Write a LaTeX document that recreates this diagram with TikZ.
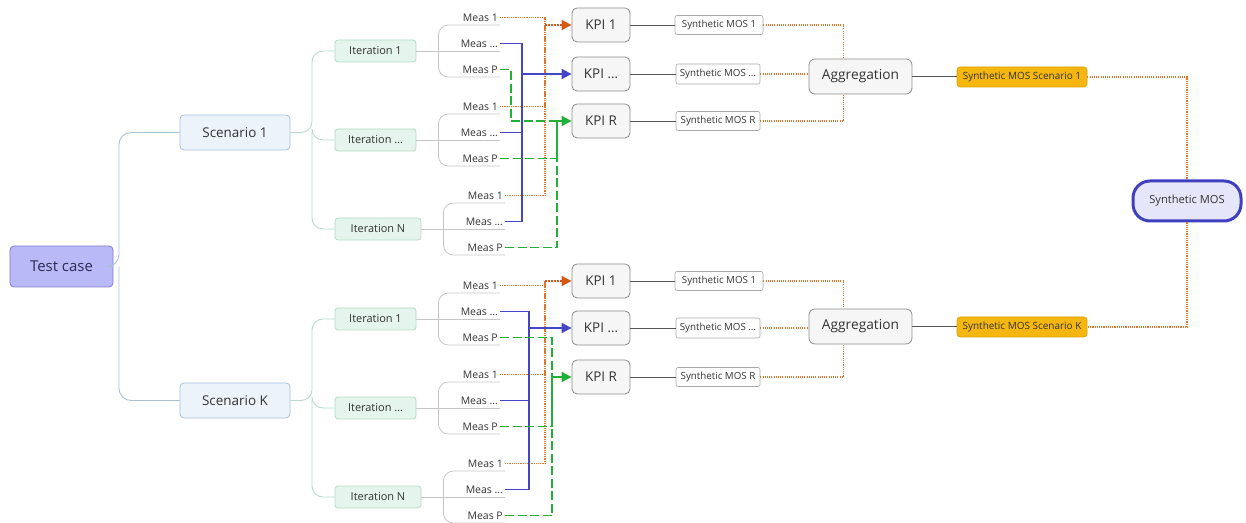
\documentclass[tikz,border=0pt]{standalone}
\usepackage{fontspec}
\setmainfont{Open Sans}
\usetikzlibrary{arrows.meta,calc}
\definecolor{tcfill}{HTML}{B9B9F7}
\definecolor{tcdraw}{HTML}{7F7FC9}
\definecolor{tctext}{HTML}{2B2B55}
\definecolor{scfill}{HTML}{EDF3FA}
\definecolor{scdraw}{HTML}{A7C1DA}
\definecolor{itfill}{HTML}{E5F4EC}
\definecolor{itdraw}{HTML}{B3DBC3}
\definecolor{kpifill}{HTML}{F6F6F6}
\definecolor{kpidraw}{HTML}{8C8C8C}
\definecolor{smdraw}{HTML}{A8A8A8}
\definecolor{ssfill}{HTML}{F5B70F}
\definecolor{ssdraw}{HTML}{DDA000}
\definecolor{fifill}{HTML}{E6E6FA}
\definecolor{fidraw}{HTML}{3F3FBF}
\definecolor{orng}{HTML}{E0762C}
\definecolor{orngdark}{HTML}{D4581A}
\definecolor{blu}{HTML}{4545C6}
\definecolor{grn}{HTML}{22B038}
\definecolor{treeA}{HTML}{A9C3D6}
\definecolor{treeB}{HTML}{B7DACB}
\definecolor{treeC}{HTML}{C6C6C6}
\definecolor{linkc}{HTML}{555555}
\definecolor{txt}{HTML}{333333}
\newcommand\mgroup[4]{%
  \node[meas] (#1a) at (#3,#4) {Meas 1};
  \node[meas] (#1b) at (#3,{#4+26}) {Meas …};
  \node[meas] (#1c) at (#3,{#4+52}) {Meas P};
  \draw[tree3] (#2.east) -- (#1b.south east);
  \draw[tree3] ($(#2.east)+(22,0)$) |- (#1a.south east);
  \draw[tree3] ($(#2.east)+(22,0)$) |- (#1c.south east);
}
\begin{document}
\begin{tikzpicture}[x=1bp,y=-1bp,
  box/.style={draw, rounded corners=4bp, line width=0.8bp, inner sep=0bp, text=txt},
  tcbox/.style={box, fill=tcfill, draw=tcdraw, minimum width=103bp, minimum height=41bp, text=tctext, font=\fontsize{15}{17}\selectfont},
  scbox/.style={box, fill=scfill, draw=scdraw, minimum width=110bp, minimum height=35bp, font=\fontsize{13.5}{15}\selectfont},
  itbox/.style={box, fill=itfill, draw=itdraw, minimum width=81bp, minimum height=22bp, rounded corners=3bp, font=\fontsize{11}{13}\selectfont},
  kpibox/.style={box, fill=kpifill, draw=kpidraw, minimum width=58bp, minimum height=34bp, rounded corners=5bp, font=\fontsize{13.5}{15}\selectfont},
  smbox/.style={box, fill=white, draw=smdraw, minimum width=86bp, minimum height=19bp, rounded corners=2bp, line width=0.6bp, font=\fontsize{9.8}{11}\selectfont},
  aggbox/.style={box, fill=kpifill, draw=kpidraw, minimum width=103bp, minimum height=35bp, rounded corners=6bp, font=\fontsize{13.8}{15}\selectfont},
  ssbox/.style={box, fill=ssfill, draw=ssdraw, minimum width=130bp, minimum height=20bp, rounded corners=3bp, line width=0.6bp, font=\fontsize{10}{11}\selectfont},
  finbox/.style={box, fill=fifill, draw=fidraw, line width=3bp, minimum width=108bp, minimum height=40bp, rounded corners=17bp, font=\fontsize{11.2}{13}\selectfont},
  meas/.style={anchor=south east, inner xsep=2bp, inner ysep=3.5bp, text height=7.5bp, text depth=0bp, text=txt, font=\fontsize{10.5}{12}\selectfont},
  tree1/.style={draw=treeA, line width=0.9bp, rounded corners=12bp},
  tree2/.style={draw=treeB, line width=0.9bp, rounded corners=11bp},
  tree3/.style={draw=treeC, line width=0.8bp, rounded corners=10bp},
  link/.style={draw=linkc, line width=0.8bp},
  odot/.style={draw=orng, line width=1.1bp, dash pattern=on 1.1bp off 1.1bp},
  bline/.style={draw=blu, line width=1.8bp},
  gdash/.style={draw=grn, line width=1.8bp, dash pattern=on 9bp off 3.5bp},
  tip/.style={-{Triangle[length=10bp,width=10bp]}}
]
\useasboundingbox (0,0) rectangle (1246,523);

% main nodes
\node[tcbox] (tc) at (61.5,266.5) {Test case};
\node[scbox] (s1) at (235,132.5) {Scenario 1};
\node[scbox] (sK) at (235,400.5) {Scenario K};

\node[itbox] (i1a) at (375.5,51) {Iteration 1};
\node[itbox] (i1b) at (375.5,140) {Iteration …};
\node[itbox, minimum width=86bp] (i1c) at (378,229) {Iteration N};
\node[itbox] (i2a) at (375.5,319) {Iteration 1};
\node[itbox] (i2b) at (375.5,408) {Iteration …};
\node[itbox, minimum width=86bp] (i2c) at (378,497) {Iteration N};

% tree lines
\coordinate (j0) at (119,266.5);
\draw[tree1] (tc.east) -- (j0) |- (s1.west);
\draw[tree1] (j0) |- (sK.west);
\coordinate (j1) at (312,132.5);
\draw[tree2] (s1.east) -- (j1) |- (i1a.west);
\draw[tree2] (j1) |- (i1b.west);
\draw[tree2] (j1) |- (i1c.west);
\coordinate (j2) at (312,400.5);
\draw[tree2] (sK.east) -- (j2) |- (i2a.west);
\draw[tree2] (j2) |- (i2b.west);
\draw[tree2] (j2) |- (i2c.west);

\mgroup{m1a}{i1a}{500}{25}
\mgroup{m1b}{i1b}{500}{114}
\mgroup{m1c}{i1c}{505}{203}
\mgroup{m2a}{i2a}{500}{293}
\mgroup{m2b}{i2b}{500}{382}
\mgroup{m2c}{i2c}{505}{471}

% KPI and MOS
\node[kpibox] (k1a) at (601,25) {KPI 1};
\node[kpibox] (k1b) at (601,74) {KPI …};
\node[kpibox] (k1c) at (601,121) {KPI R};
\node[kpibox] (k2a) at (601,281) {KPI 1};
\node[kpibox] (k2b) at (601,328) {KPI …};
\node[kpibox] (k2c) at (601,377) {KPI R};

\node[smbox, minimum width=88bp] (sm1a) at (719,25) {Synthetic MOS 1};
\node[smbox, minimum width=84bp, minimum height=20bp] (sm1b) at (718,74) {Synthetic MOS …};
\node[smbox, minimum width=84bp] (sm1c) at (718,121) {Synthetic MOS R};
\node[smbox, minimum width=88bp] (sm2a) at (719,281) {Synthetic MOS 1};
\node[smbox, minimum width=84bp, minimum height=20bp] (sm2b) at (718,328) {Synthetic MOS …};
\node[smbox, minimum width=84bp] (sm2c) at (718,377) {Synthetic MOS R};

\node[aggbox] (ag1) at (860.5,76.5) {Aggregation};
\node[aggbox] (ag2) at (860.5,326.5) {Aggregation};
\node[ssbox] (ss1) at (1022,77) {Synthetic MOS Scenario 1};
\node[ssbox] (ss2) at (1022,327) {Synthetic MOS Scenario K};
\node[finbox] (fin) at (1187,201) {Synthetic MOS};

\foreach \g in {1,2}{
  \foreach \r in {a,b,c}{
    \draw[link] (k\g\r.east) -- (sm\g\r.east -| sm\g\r.west);
  }
  \draw[odot] (sm\g a.east) -| ([xshift=-17bp]ag\g.north);
  \draw[odot, line width=1.6bp] (sm\g b.east) -- (sm\g b.east -| ag\g.west);
  \draw[odot] (sm\g c.east) -| ([xshift=-17bp]ag\g.south);
  \draw[link] (ag\g.east) -- (ag\g.east -| ss\g.west);
}
\draw[odot] (ss1.east) -| (fin.north);
\draw[odot] (fin.south) |- (ss2.east);

% measurement -> KPI connectors, top
\coordinate (ox) at (545,0);
\coordinate (bx1) at (522,0);
\coordinate (gx1) at (511,0);
\coordinate (gx2) at (557,0);
\draw[odot] (m1aa.east) -| (k1a.west -| ox);
\draw[odot] (m1ba.east) -| (k1a.west -| ox);
\draw[odot] (m1ca.east) -| (k1a.west -| ox);
\draw[draw=orngdark, line width=1.8bp, dash pattern=on 2bp off 1bp, tip] (k1a.west -| ox) -- (k1a.west);
\draw[bline] (m1ab.east) -| (k1b.west -| bx1);
\draw[bline] (m1bb.east) -| (k1b.west -| bx1);
\draw[bline] (m1cb.east) -| (k1b.west -| bx1);
\draw[bline, tip] (k1b.west -| bx1) -- (k1b.west);
\draw[gdash] (m1ac.east) -| (k1c.west -| gx1) -- (k1c.west -| gx2);
\draw[gdash] (m1bc.east) -| (k1c.west -| gx2);
\draw[gdash] (m1cc.east) -| (k1c.west -| gx2);
\draw[draw=grn, line width=1.8bp, tip] (k1c.west -| gx2) -- (k1c.west);

% bottom
\coordinate (bx2) at (529,0);
\coordinate (gx3) at (552,0);
\draw[odot] (m2aa.east) -| (k2a.west -| ox);
\draw[odot] (m2ba.east) -| (k2a.west -| ox);
\draw[odot] (m2ca.east) -| (k2a.west -| ox);
\draw[draw=orngdark, line width=1.8bp, dash pattern=on 2bp off 1bp, tip] (k2a.west -| ox) -- (k2a.west);
\draw[bline] (m2ab.east) -| (k2b.west -| bx2);
\draw[bline] (m2bb.east) -| (k2b.west -| bx2);
\draw[bline] (m2cb.east) -| (k2b.west -| bx2);
\draw[bline, tip] (k2b.west -| bx2) -- (k2b.west);
\draw[gdash] (m2ac.east) -| (k2c.west -| gx3);
\draw[gdash] (m2bc.east) -| (k2c.west -| gx3);
\draw[gdash] (m2cc.east) -| (k2c.west -| gx3);
\draw[draw=grn, line width=1.8bp, tip] (k2c.west -| gx3) -- (k2c.west);
\end{tikzpicture}
\end{document}
